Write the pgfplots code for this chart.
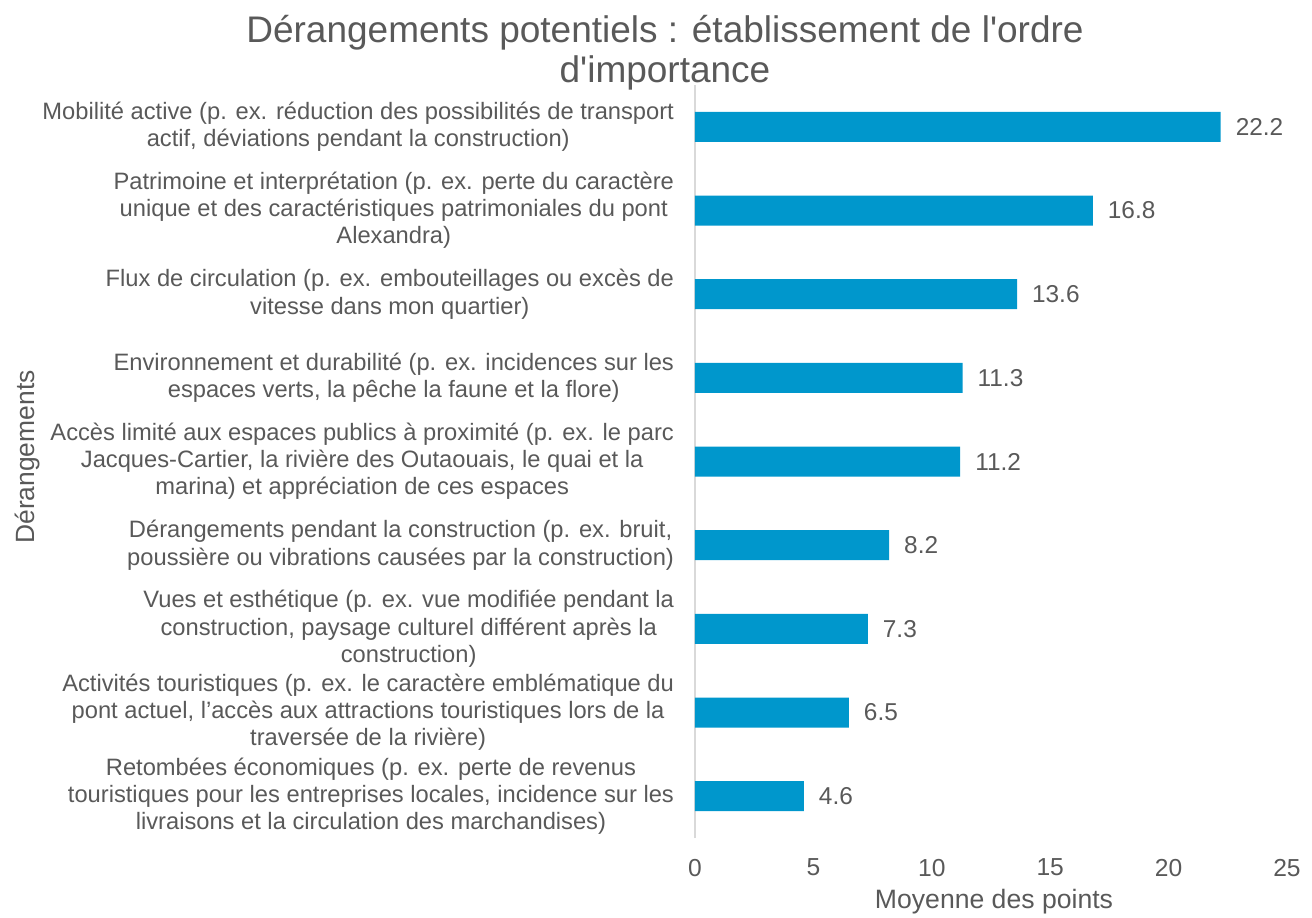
\documentclass[border=0pt]{standalone}
\usepackage{pgfplots}
\pgfplotsset{compat=1.18}
\usepackage{fontspec}
\setmainfont{Liberation Sans}
\definecolor{barc}{HTML}{0097CC}
\definecolor{txt}{HTML}{595959}
\definecolor{axc}{HTML}{D9D9D9}
\begin{document}
\begin{tikzpicture}[x=0.5pt,y=0.5pt]
\useasboundingbox (0,0) rectangle (1312,917);
\begin{axis}[
  at={(347.5pt,39.5pt)}, anchor=south west,
  scale only axis, width=296pt, height=376.5pt,
  xmin=0, xmax=25, ymin=-0.5, ymax=8.5,
  xbar, bar width=15pt,
  axis x line*=bottom, x axis line style={draw=none},
  axis y line*=left, y axis line style={draw=axc, line width=1pt},
  major tick length=0pt,
  /pgf/number format/assume math mode=true,
  xtick={0,5,10,15,20,25},
  ytick={0,1,2,3,4,5,6,7,8},
  yticklabels={
    {Retombées économiques (p. ex. perte de revenus\\touristiques pour les entreprises locales, incidence sur les\\livraisons et la circulation des marchandises)},
    {Activités touristiques (p. ex. le caractère emblématique du\\pont actuel, l’accès aux attractions touristiques lors de la\\traversée de la rivière)},
    {Vues et esthétique (p. ex. vue modifiée pendant la\\construction, paysage culturel différent après la\\construction)},
    {Dérangements pendant la construction (p. ex. bruit,\\poussière ou vibrations causées par la construction)},
    {Accès limité aux espaces publics à proximité (p. ex. le parc\\Jacques-Cartier, la rivière des Outaouais, le quai et la\\marina) et appréciation de ces espaces},
    {Environnement et durabilité (p. ex. incidences sur les\\espaces verts, la pêche la faune et la flore)},
    {Flux de circulation (p. ex. embouteillages ou excès de\\vitesse dans mon quartier)},
    {Patrimoine et interprétation (p. ex. perte du caractère\\unique et des caractéristiques patrimoniales du pont\\Alexandra)},
    {Mobilité active (p. ex. réduction des possibilités de transport\\actif, déviations pendant la construction)}
  },
  yticklabel style={align=center, font=\fontsize{11.85pt}{13.6pt}\selectfont, text=txt, xshift=-7pt},
  xticklabel style={font=\fontsize{12.3pt}{14pt}\selectfont, text=txt, yshift=-7pt},
  nodes near coords,
  nodes near coords style={font=\fontsize{12.2pt}{14pt}\selectfont, text=txt, anchor=west, xshift=4pt},
  point meta=explicit symbolic,
  clip=false,
]
\addplot[fill=barc, draw=none] coordinates {
  (4.6,0) [4.6]
  (6.5,1) [6.5]
  (7.3,2) [7.3]
  (8.2,3) [8.2]
  (11.2,4) [11.2]
  (11.3,5) [11.3]
  (13.6,6) [13.6]
  (16.8,7) [16.8]
  (22.2,8) [22.2]
};
\end{axis}
\node[txt, font=\fontsize{18.5pt}{20pt}\selectfont, align=center] at (665,864) {Dérangements potentiels : établissement de l\textquotesingle ordre\\d\textquotesingle importance};
\node[txt, font=\fontsize{13.3pt}{15pt}\selectfont] at (994,15) {Moyenne des points};
\node[txt, font=\fontsize{13.2pt}{15pt}\selectfont, rotate=90] at (28,460) {Dérangements};
\end{tikzpicture}
\end{document}
